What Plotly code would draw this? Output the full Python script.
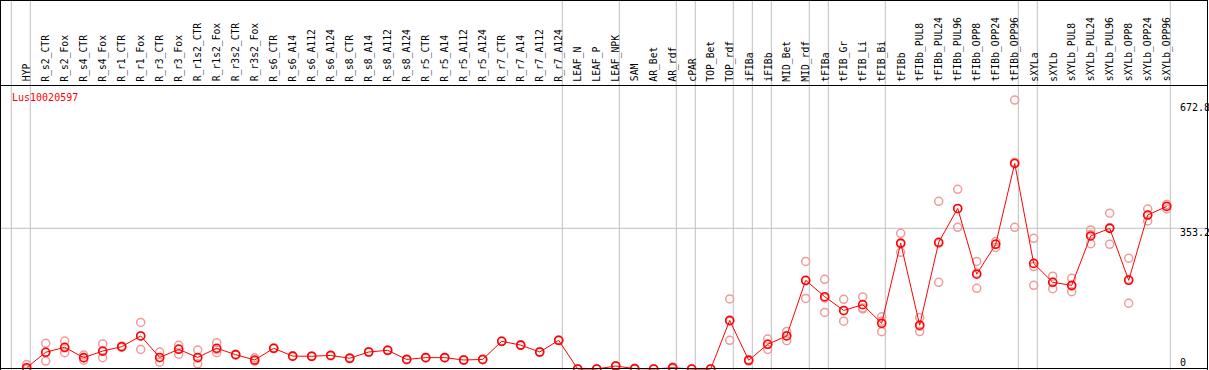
import plotly.graph_objects as go

title = "Lus10020597"
categories = ["HYP", "R_s2_CTR", "R_s2_Fox", "R_s4_CTR", "R_s4_Fox", "R_r1_CTR", "R_r1_Fox",
              "R_r3_CTR", "R_r3_Fox", "R_r1s2_CTR", "R_r1s2_Fox", "R_r3s2_CTR", "R_r3s2_Fox",
              "R_s6_CTR", "R_s6_A14", "R_s6_A112", "R_s6_A124", "R_s8_CTR", "R_s8_A14",
              "R_s8_A112", "R_s8_A124", "R_r5_CTR", "R_r5_A14", "R_r5_A112", "R_r5_A124",
              "R_r7_CTR", "R_r7_A14", "R_r7_A112", "R_r7_A124", "LEAF_N", "LEAF_P", "LEAF_NPK",
              "SAM", "AR_Bet", "AR_rdf", "cPAR", "TOP_Bet", "TOP_rdf", "iFIBa", "iFIBb",
              "MID_Bet", "MID_rdf", "tFIBa", "tFIB_Gr", "tFIB_Li", "tFIB_Bi", "tFIBb",
              "tFIBb_PUL8", "tFIBb_PUL24", "tFIBb_PUL96", "tFIBb_OPP8", "tFIBb_OPP24",
              "tFIBb_OPP96", "sXYLa", "sXYLb", "sXYLb_PUL8", "sXYLb_PUL24", "sXYLb_PUL96",
              "sXYLb_OPP8", "sXYLb_OPP24", "sXYLb_OPP96"]

means = [3.3, 42, 54.5, 28.5, 45, 56, 83, 29, 49.4, 29, 52, 36, 22.6,
         52, 32.3, 32, 34, 27, 42.7, 47, 24, 28.5, 28.5, 22.6, 24,
         69.5, 60, 42.7, 72, 0, 0, 7.5, 1, 0, 3.3, 0, 0, 122, 21.8, 62,
         83, 222.6, 181.5, 147, 161.5, 114.7, 316, 110, 318, 403, 238, 313,
         516, 265, 217.6, 210, 334, 353, 222.6, 386.5, 408]

replicates = [
    [11, 0], [64.5, 20, 42], [70, 41, 53], [35, 22, 28], [63, 28.5, 44], [58, 54],
    [117, 49, 83], [42.7, 17, 28], [59.5, 37, 51], [47.7, 13, 27], [66, 41, 49],
    [37, 35], [28, 20, 20], [53, 51], [33, 31.5], [32.5, 31.5], [35, 33], [28, 26],
    [43.5, 42], [48, 46], [25, 23], [29, 28], [29, 28], [23, 22], [25, 23],
    [70, 69], [61, 59], [43.5, 42], [73, 71], [0, 0], [0, 0], [8, 7], [1.5, 0.5],
    [0, 0], [5, 1.5], [0, 0], [0, 0], [176, 72, 120], [24, 20], [75, 49, 62],
    [94, 71, 84], [270, 177, 221], [225, 142, 178], [175, 120, 146], [181, 150.6, 153],
    [131, 93.6, 120], [340.6, 293, 314], [129, 94, 107], [421, 217.6, 315],
    [451, 355.7, 402], [270, 202.5, 241], [320, 305, 314], [675, 355.7, 519],
    [328, 210, 257], [233, 201.5, 218], [227.6, 194, 208], [349, 314.5, 338],
    [391, 313, 355], [278, 165, 225], [401.6, 371.5, 386], [413, 401.6, 409]]

group_breaks = [0, 1, 29, 32, 35, 36, 38, 39, 40, 42, 43, 46, 53, 54, 61]
axis_labels = ["672.8", "353.2", "0"]
grid_value = 353.2

W, H = 1209, 370
x0px, step = 26.7, 19.0
zero_py, scale = 369.0, 0.3984

xs = list(range(len(categories)))
rx, ry = [], []
for i, reps in enumerate(replicates):
    for r in reps:
        rx.append(i)
        ry.append(r)

font = "DejaVu Sans Mono"
fig = go.Figure()
fig.add_trace(go.Scatter(x=rx, y=ry, mode="markers",
                         marker=dict(symbol="circle-open", size=8, color="#f29a9a",
                                     line=dict(width=1.5, color="#f29a9a")),
                         hoverinfo="skip", showlegend=False))
fig.add_trace(go.Scatter(x=xs, y=means, mode="lines+markers",
                         line=dict(color="#ff0000", width=1),
                         marker=dict(symbol="circle-open", size=8, color="#ff0000",
                                     line=dict(width=1.6, color="#ff0000")),
                         showlegend=False))

def px2x(px):
    return (px - x0px) / step

def py2paper(py):
    return 1 - py / H

shapes = []
for b in group_breaks:
    xv = b - 1 + 0.19
    shapes.append(dict(type="line", xref="x", yref="paper", x0=xv, x1=xv, y0=0, y1=1,
                       line=dict(color="#c0c0c0", width=1), layer="below"))
shapes.append(dict(type="line", xref="paper", yref="y", x0=0, x1=1207 / W, y0=grid_value,
                   y1=grid_value, line=dict(color="#c0c0c0", width=1), layer="below"))
blk = dict(color="#000000", width=1)
shapes += [
    dict(type="line", xref="paper", yref="paper", x0=0, x1=1207.5 / W, y0=py2paper(0.5), y1=py2paper(0.5), line=blk),
    dict(type="line", xref="paper", yref="paper", x0=0, x1=1207.5 / W, y0=py2paper(85.5), y1=py2paper(85.5), line=blk),
    dict(type="line", xref="paper", yref="paper", x0=0, x1=1207.5 / W, y0=py2paper(368.5), y1=py2paper(368.5), line=blk),
    dict(type="line", xref="paper", yref="paper", x0=0.5 / W, x1=0.5 / W, y0=0, y1=1, line=blk),
    dict(type="line", xref="paper", yref="paper", x0=1207.5 / W, x1=1207.5 / W, y0=0, y1=1, line=blk),
]

annotations = []
for i, c in enumerate(categories):
    annotations.append(dict(x=i, xref="x", y=py2paper(83.5), yref="paper", text=c,
                            textangle=-90, showarrow=False, xanchor="center", yanchor="bottom",
                            font=dict(family=font, size=9.7, color="#000000")))
annotations.append(dict(x=10 / W, xref="paper", y=py2paper(97.5), yref="paper", text=title,
                        showarrow=False, xanchor="left", yanchor="middle",
                        font=dict(family=font, size=10, color="#ff0000")))
for lab, py in zip(axis_labels, [107.5, 232.5, 362]):
    annotations.append(dict(x=1178 / W, xref="paper", y=py2paper(py), yref="paper", text=lab,
                            showarrow=False, xanchor="left", yanchor="middle",
                            font=dict(family=font, size=10, color="#000000")))

fig.update_layout(
    width=W, height=H, margin=dict(l=0, r=0, t=0, b=0),
    paper_bgcolor="white", plot_bgcolor="white",
    xaxis=dict(range=[px2x(0), px2x(W)], visible=False, showgrid=False, zeroline=False),
    yaxis=dict(range=[-(H - zero_py) / scale, zero_py / scale], visible=False,
               showgrid=False, zeroline=False),
    shapes=shapes, annotations=annotations, showlegend=False,
)
fig.write_html("out.html", config={"displayModeBar": False},
               post_script="document.body.style.margin='0';document.body.style.overflow='hidden';")
